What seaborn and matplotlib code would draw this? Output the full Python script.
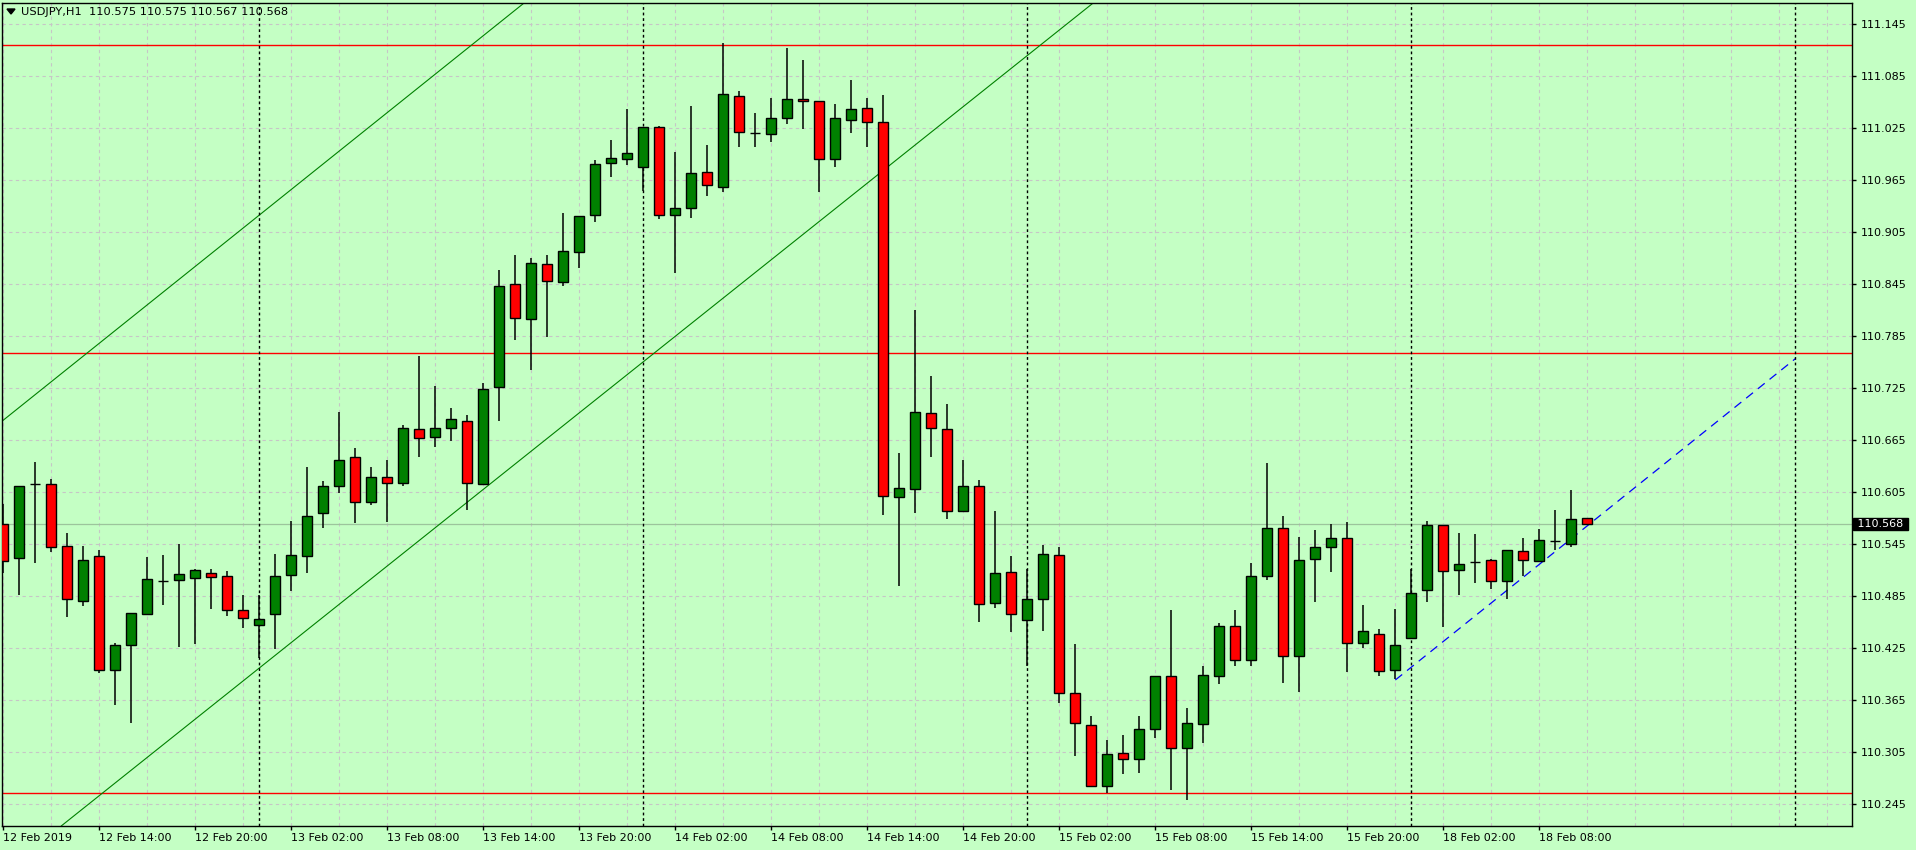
import numpy as np
import matplotlib
matplotlib.use("Agg")
import matplotlib.pyplot as plt
import matplotlib.transforms as mtransforms
from matplotlib.patches import Polygon
import seaborn as sns

# USDJPY H1 bars, 12 Feb 2019 08:00 .. 18 Feb 2019 11:00 (weekend skipped)
opens = [110.568, 110.529, 110.614, 110.614, 110.543, 110.479, 110.531, 110.399, 110.428, 110.464,
         110.502, 110.503, 110.506, 110.512, 110.508, 110.469, 110.451, 110.464, 110.509, 110.531,
         110.581, 110.612, 110.645, 110.593, 110.622, 110.616, 110.678, 110.668, 110.679, 110.687,
         110.614, 110.726, 110.845, 110.805, 110.868, 110.847, 110.882, 110.925, 110.985, 110.990,
         110.980, 111.027, 110.925, 110.933, 110.974, 110.957, 111.062, 111.020, 111.019, 111.037,
         111.059, 111.056, 110.990, 111.035, 111.048, 111.032, 110.599, 110.609, 110.696, 110.678,
         110.583, 110.612, 110.477, 110.513, 110.457, 110.481, 110.532, 110.373, 110.336, 110.266,
         110.304, 110.297, 110.331, 110.393, 110.309, 110.337, 110.393, 110.450, 110.411, 110.508,
         110.564, 110.416, 110.528, 110.541, 110.552, 110.431, 110.441, 110.399, 110.436, 110.492,
         110.567, 110.515, 110.524, 110.526, 110.502, 110.537, 110.525, 110.548, 110.545, 110.575]
highs = [110.591, 110.612, 110.640, 110.620, 110.558, 110.543, 110.538, 110.431, 110.465, 110.530,
         110.532, 110.545, 110.516, 110.516, 110.514, 110.486, 110.486, 110.533, 110.572, 110.634,
         110.618, 110.697, 110.656, 110.634, 110.642, 110.682, 110.762, 110.728, 110.702, 110.694,
         110.731, 110.861, 110.879, 110.875, 110.879, 110.927, 110.924, 110.988, 111.012, 111.047,
         111.027, 111.028, 110.998, 111.051, 111.006, 111.123, 111.068, 111.043, 111.060, 111.118,
         111.104, 111.057, 111.053, 111.081, 111.060, 111.063, 110.650, 110.815, 110.739, 110.707,
         110.642, 110.619, 110.583, 110.531, 110.516, 110.544, 110.542, 110.430, 110.346, 110.319,
         110.324, 110.346, 110.393, 110.469, 110.356, 110.404, 110.454, 110.469, 110.523, 110.639,
         110.577, 110.553, 110.561, 110.568, 110.570, 110.475, 110.447, 110.470, 110.516, 110.572,
         110.567, 110.558, 110.556, 110.528, 110.538, 110.552, 110.562, 110.584, 110.607, 110.575]
lows = [110.511, 110.486, 110.523, 110.536, 110.461, 110.474, 110.396, 110.359, 110.338, 110.463,
        110.475, 110.426, 110.430, 110.470, 110.462, 110.448, 110.413, 110.424, 110.491, 110.511,
        110.563, 110.604, 110.569, 110.590, 110.570, 110.612, 110.646, 110.657, 110.664, 110.584,
        110.613, 110.687, 110.781, 110.746, 110.784, 110.843, 110.864, 110.917, 110.969, 110.983,
        110.953, 110.920, 110.858, 110.922, 110.947, 110.951, 111.004, 111.003, 111.009, 111.030,
        111.024, 110.952, 110.980, 111.020, 111.003, 110.579, 110.496, 110.581, 110.646, 110.574,
        110.583, 110.455, 110.471, 110.443, 110.404, 110.444, 110.361, 110.300, 110.265, 110.258,
        110.279, 110.281, 110.321, 110.261, 110.249, 110.315, 110.383, 110.404, 110.404, 110.503,
        110.385, 110.374, 110.478, 110.513, 110.397, 110.425, 110.393, 110.389, 110.436, 110.478,
        110.449, 110.486, 110.500, 110.493, 110.482, 110.508, 110.525, 110.538, 110.542, 110.567]
closes = [110.525, 110.612, 110.614, 110.542, 110.481, 110.527, 110.400, 110.428, 110.465, 110.505,
          110.502, 110.510, 110.515, 110.507, 110.469, 110.460, 110.458, 110.508, 110.532, 110.577,
          110.612, 110.642, 110.593, 110.622, 110.616, 110.679, 110.667, 110.679, 110.689, 110.616,
          110.724, 110.843, 110.806, 110.870, 110.849, 110.883, 110.924, 110.984, 110.991, 110.996,
          111.027, 110.925, 110.933, 110.973, 110.959, 111.065, 111.021, 111.020, 111.037, 111.059,
          111.057, 110.990, 111.037, 111.047, 111.032, 110.600, 110.610, 110.697, 110.679, 110.583,
          110.612, 110.476, 110.511, 110.464, 110.481, 110.534, 110.373, 110.338, 110.266, 110.303,
          110.297, 110.331, 110.393, 110.309, 110.338, 110.394, 110.450, 110.411, 110.508, 110.564,
          110.416, 110.527, 110.541, 110.552, 110.431, 110.444, 110.398, 110.428, 110.489, 110.567,
          110.514, 110.522, 110.524, 110.502, 110.538, 110.527, 110.550, 110.548, 110.574, 110.568]

symbol = "USDJPY"
timeframe = "H1"

# time axis labels every 6 bars
time_labels = ["12 Feb 2019", "12 Feb 14:00", "12 Feb 20:00", "13 Feb 02:00", "13 Feb 08:00",
               "13 Feb 14:00", "13 Feb 20:00", "14 Feb 02:00", "14 Feb 08:00", "14 Feb 14:00",
               "14 Feb 20:00", "15 Feb 02:00", "15 Feb 08:00", "15 Feb 14:00", "15 Feb 20:00",
               "18 Feb 02:00", "18 Feb 08:00"]
label_bars = [0, 6, 12, 18, 24, 30, 36, 42, 48, 54, 60, 66, 72, 78, 84, 90, 96]
day_start_bars = [16, 40, 64, 88, 112]

price_ticks = [110.245, 110.305, 110.365, 110.425, 110.485, 110.545, 110.605, 110.665,
               110.725, 110.785, 110.845, 110.905, 110.965, 111.025, 111.085, 111.145]

# chart objects (bar index, price)
h_levels = [111.121, 110.765, 110.257]
channel_upper = [(0, 110.688), (20, 110.984)]
channel_lower = [(4, 110.225), (68, 111.168)]
blue_trend = [(87, 110.388), (112, 110.759)]

bg = "#c4ffc4"
sns.set_theme(style="ticks", rc={"axes.facecolor": bg, "figure.facecolor": bg})
plt.rcParams["font.family"] = ["DejaVu Sans"]

fig = plt.figure(figsize=(19.16, 8.5), dpi=100)
ax = fig.add_axes([2 / 1916, 1 - 826 / 850, 1850 / 1916, 823 / 850])
ax.set_facecolor(bg)

x = np.arange(len(opens))
o = np.array(opens)
h = np.array(highs)
l = np.array(lows)
c = np.array(closes)

# reference lines under candles
for lev in h_levels:
    ax.axhline(lev, color="#ff0000", lw=1.0, zorder=2)
ax.axhline(closes[-1], color="#9cc49c", lw=0.9, zorder=2)
for pts in (channel_upper, channel_lower):
    ax.axline(pts[0], pts[1], color="#008000", lw=0.8, zorder=2)
ax.plot([blue_trend[0][0], blue_trend[1][0]], [blue_trend[0][1], blue_trend[1][1]],
        color="#0000ff", lw=0.9, dashes=(7, 5), zorder=2)
for d in day_start_bars:
    ax.axvline(d, color="black", lw=1.0, dashes=(2, 2), zorder=2)

# candles
ax.vlines(x, l, h, color="black", lw=1.1, zorder=3)
body_col = np.where(c > o, "#008000", "#ff0000")
bottom = np.minimum(o, c)
height = np.abs(c - o)
ax.bar(x, height, width=0.62, bottom=bottom, color=body_col,
       edgecolor="black", linewidth=1.0, zorder=4)

ax.set_xlim(-0.08, 115.54)
ax.set_ylim(110.2194, 111.1697)

ax.yaxis.tick_right()
ax.set_yticks(price_ticks)
ax.set_yticklabels([f"{p:.3f}" for p in price_ticks], fontsize=8)
ax.tick_params(axis="y", length=3, width=1, pad=3, colors="black")

ax.set_xticks(label_bars)
ax.set_xticklabels(time_labels, fontsize=8, ha="left")
ax.set_xticks(np.arange(0, 116, 3), minor=True)
ax.tick_params(axis="x", which="major", length=3, width=1, pad=2, colors="black")
ax.tick_params(axis="x", which="minor", length=0)

grid_col = "#c6c6c6"
ax.grid(True, axis="y", color=grid_col, lw=0.8, dashes=(3, 3), zorder=0)
ax.grid(True, axis="x", which="both", color=grid_col, lw=0.8, dashes=(3, 3), zorder=0)
ax.set_axisbelow(True)

for s in ax.spines.values():
    s.set_color("black")
    s.set_linewidth(1.0)

# bid price label
trans = mtransforms.blended_transform_factory(ax.transAxes, ax.transData)
ax.text(1.0012, closes[-1], f" {closes[-1]:.3f} ", transform=trans, fontsize=8,
        color="white", va="center", ha="left",
        bbox=dict(boxstyle="square,pad=0.1", facecolor="black", edgecolor="black"))

# header
fig.text(21 / 1916, 1 - 12 / 850,
         f"{symbol},{timeframe}  {opens[-1]:.3f} {highs[-1]:.3f} {lows[-1]:.3f} {closes[-1]:.3f}",
         fontsize=8.2, color="black", va="center", ha="left")
tri = Polygon([(7 / 1916, 1 - 9 / 850), (15 / 1916, 1 - 9 / 850), (11 / 1916, 1 - 14 / 850)],
              closed=True, transform=fig.transFigure, facecolor="black", edgecolor="black")
fig.patches.append(tri)

fig.savefig("out.png", dpi=100, facecolor=bg)
